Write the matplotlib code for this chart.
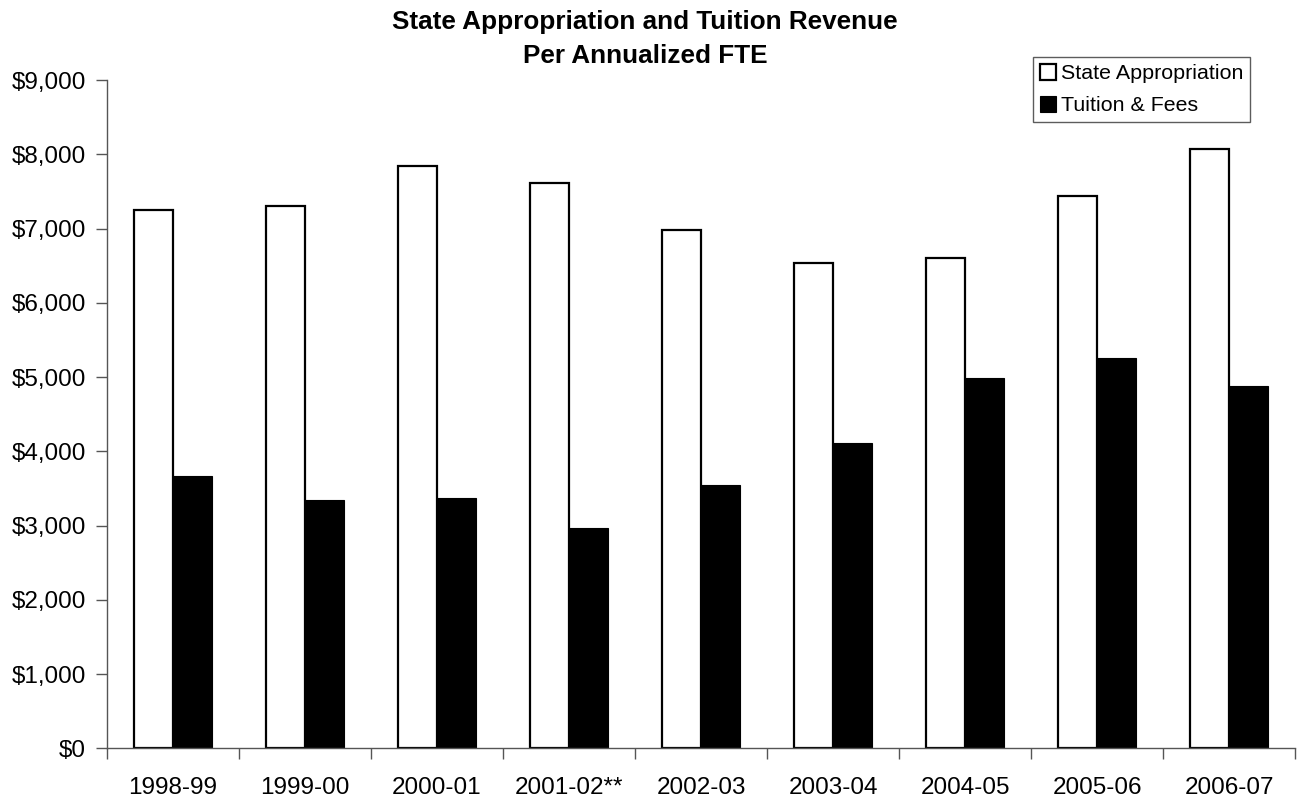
import numpy as np
import matplotlib
matplotlib.use("Agg")
import matplotlib.pyplot as plt
from matplotlib.ticker import FuncFormatter, FixedLocator

plt.rcParams['font.family'] = ['Liberation Sans', 'DejaVu Sans']

years = ["1998-99", "1999-00", "2000-01", "2001-02**", "2002-03",
         "2003-04", "2004-05", "2005-06", "2006-07"]
state_approp = [7250, 7305, 7837, 7612, 6975, 6531, 6607, 7433, 8074]
tuition_fees = [3667, 3339, 3366, 2962, 3541, 4111, 4987, 5260, 4879]

fig = plt.figure(figsize=(12.97, 7.98), dpi=100)
ax = fig.add_axes([0.0825, 0.0623, 0.916, 0.8374])

x = np.arange(len(years))
w = 0.295
ax.bar(x - w / 2, state_approp, w, color='white', edgecolor='black',
       linewidth=1.6, label='State Appropriation')
ax.bar(x + w / 2, tuition_fees, w, color='black', edgecolor='black',
       linewidth=0.8, label='Tuition & Fees')

ax.set_xlim(-0.5, len(years) - 0.5)
ax.set_ylim(0, 9000)
ax.set_yticks(np.arange(0, 9001, 1000))
ax.yaxis.set_major_formatter(FuncFormatter(lambda v, p: "${:,.0f}".format(v)))

# tick marks at category boundaries, labels at centres
ax.xaxis.set_major_locator(FixedLocator(np.arange(-0.5, len(years), 1.0)))
ax.xaxis.set_major_formatter(FuncFormatter(lambda v, p: ""))
ax.xaxis.set_minor_locator(FixedLocator(x))
ax.set_xticklabels(years, minor=True)
ax.tick_params(axis='x', which='minor', length=0, pad=21, labelsize=17.5)
ax.tick_params(axis='x', which='major', length=8, width=1, color='#555555')
ax.tick_params(axis='y', length=8, width=1, color='#555555', pad=7,
               labelsize=17.5)

for s in ['top', 'right']:
    ax.spines[s].set_visible(False)
for s in ['left', 'bottom']:
    ax.spines[s].set_color('#555555')
    ax.spines[s].set_linewidth(1)

fig.text(0.4973, 1 - 29 / 798, "State Appropriation and Tuition Revenue",
         ha='center', va='baseline', fontsize=18.8, fontweight='bold')
fig.text(0.4973, 1 - 63 / 798, "Per Annualized FTE",
         ha='center', va='baseline', fontsize=18.8, fontweight='bold')

leg = ax.legend(loc='upper left', bbox_to_anchor=(1033 / 1297, 1 - 57 / 798),
                bbox_transform=fig.transFigure, frameon=True, fancybox=False,
                fontsize=15.4, handlelength=0.75, handleheight=0.75,
                handletextpad=0.25, borderpad=0.32, labelspacing=0.6,
                borderaxespad=0)
leg.get_frame().set_edgecolor('#333333')
leg.get_frame().set_linewidth(1)

fig.savefig("out.png", dpi=100)
